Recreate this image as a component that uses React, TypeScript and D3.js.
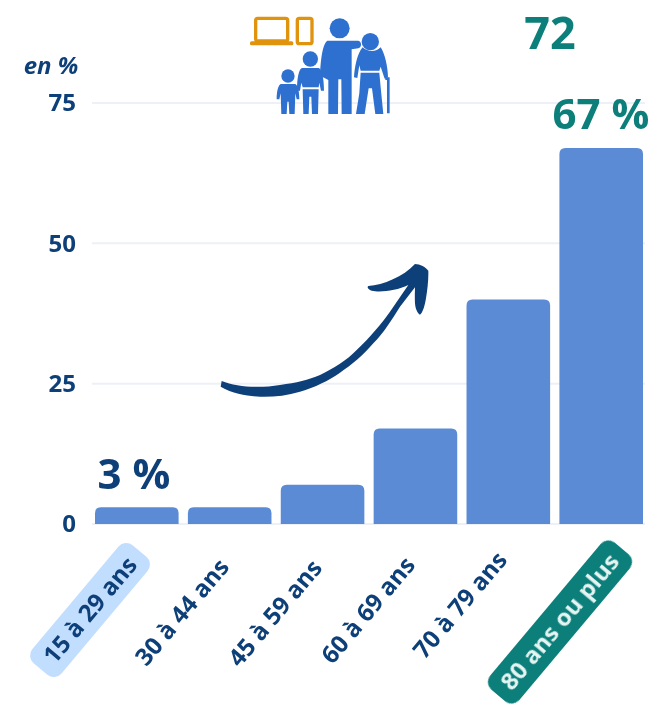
import React, { useEffect, useRef } from 'react';
import * as d3 from 'd3';

const ageGroups = ['15 à 29 ans', '30 à 44 ans', '45 à 59 ans', '60 à 69 ans', '70 à 79 ans', '80 ans ou plus'];
const shares = [3, 3, 7, 17, 40, 67];
const yTicks = [0, 25, 50, 75];
const labelCentres = [
  [90, 610],
  [182, 612],
  [275, 613],
  [368, 610],
  [460, 605],
  [560, 622],
];

const NAVY = '#0f3f78';
const TEAL = '#0b7f7a';
const BAR = '#5b8bd6';
const ICON = '#2f6fcf';
const ORANGE = '#e0930f';
const FONT = '"Open Sans", sans-serif';

function App() {
  const ref = useRef<SVGSVGElement>(null);

  useEffect(() => {
    const width = 653;
    const height = 704;
    const svg = d3.select(ref.current);
    svg.selectAll('*').remove();

    const x = d3.scaleBand().domain(ageGroups).range([95, 643]).paddingInner(0.1).paddingOuter(0);
    const y = d3.scaleLinear().domain([0, 75]).range([524, 103]);

    // the reference is a soft, upscaled image
    svg
      .append('defs')
      .append('filter')
      .attr('id', 'soft')
      .append('feGaussianBlur')
      .attr('stdDeviation', 0.6);

    const root = svg.append('g').attr('filter', 'url(#soft)');

    root.append('rect').attr('width', width).attr('height', height).attr('fill', '#fff');

    // grid
    root
      .append('g')
      .selectAll('line')
      .data(yTicks)
      .join('line')
      .attr('x1', 92)
      .attr('x2', 645)
      .attr('y1', (d) => y(d))
      .attr('y2', (d) => y(d))
      .attr('stroke', '#eef0f7')
      .attr('stroke-width', 2);

    // y axis
    const yAxis = root
      .append('g')
      .attr('transform', 'translate(76,0)')
      .call(d3.axisLeft(y).tickValues(yTicks).tickSize(0).tickPadding(0));
    yAxis.select('.domain').remove();
    yAxis
      .selectAll('text')
      .attr('fill', NAVY)
      .attr('font-family', FONT)
      .attr('font-weight', 700)
      .attr('font-size', 24);

    root
      .append('text')
      .attr('x', 51)
      .attr('y', 74)
      .attr('text-anchor', 'middle')
      .attr('fill', NAVY)
      .attr('font-family', FONT)
      .attr('font-weight', 700)
      .attr('font-style', 'italic')
      .attr('font-size', 24)
      .text('en %');

    // bars, flat at the bottom and rounded on top
    const r = 6;
    root
      .append('g')
      .selectAll('path')
      .data(shares)
      .join('path')
      .attr('fill', BAR)
      .attr('d', (d, i) => {
        const x0 = x(ageGroups[i]) as number;
        const x1 = x0 + x.bandwidth();
        const top = y(d);
        const p = d3.path();
        p.moveTo(x0, y(0));
        p.lineTo(x0, top + r);
        p.quadraticCurveTo(x0, top, x0 + r, top);
        p.lineTo(x1 - r, top);
        p.quadraticCurveTo(x1, top, x1, top + r);
        p.lineTo(x1, y(0));
        p.closePath();
        return p.toString();
      });

    // highlighted values
    const callouts = [
      { text: '72', cx: 550, cy: 49, size: 45, fill: TEAL },
      { text: '67 %', cx: 601, cy: 129, size: 42, fill: TEAL },
      { text: '3 %', cx: 134, cy: 489, size: 42, fill: NAVY },
    ];
    root
      .append('g')
      .selectAll('text')
      .data(callouts)
      .join('text')
      .attr('x', (d) => d.cx)
      .attr('y', (d) => d.cy)
      .attr('text-anchor', 'middle')
      .attr('font-family', FONT)
      .attr('font-weight', 700)
      .attr('font-size', (d) => d.size)
      .attr('fill', (d) => d.fill)
      .text((d) => d.text);

    // rotated category labels, two of them on a pill
    const labels = root
      .append('g')
      .selectAll('g')
      .data(ageGroups)
      .join('g')
      .attr('transform', (d, i) => `translate(${labelCentres[i][0]},${labelCentres[i][1]}) rotate(-50)`);

    labels
      .filter((d, i) => i === 0 || i === 5)
      .append('rect')
      .attr('x', (d, i) => (i === 0 ? -77 : -96))
      .attr('y', -19)
      .attr('width', (d, i) => (i === 0 ? 154 : 192))
      .attr('height', 38)
      .attr('rx', 10)
      .attr('fill', (d, i) => (i === 0 ? '#c2deff' : TEAL));

    labels
      .append('text')
      .attr('text-anchor', 'middle')
      .attr('dy', '0.35em')
      .attr('font-family', FONT)
      .attr('font-weight', 700)
      .attr('font-size', 24)
      .attr('fill', (d, i) => (i === 5 ? '#e6f5f3' : NAVY))
      .text((d) => d);

    // arrow, traced in 3x crop units
    root
      .append('path')
      .attr('transform', 'translate(200,250) scale(0.3333)')
      .attr('fill', NAVY)
      .attr(
        'd',
        'M65 393 C110 412 180 415 240 405 C290 398 325 390 360 375 C400 355 440 332 470 300 C510 262 545 220 570 185 L625 105 C590 122 540 128 515 122 C505 118 500 112 505 108 C550 105 610 80 645 42 C660 42 678 52 685 62 C686 90 682 120 678 145 C675 165 668 190 660 194 C652 190 646 175 645 160 C644 140 645 125 645 112 L600 170 C575 210 550 250 520 280 C490 315 455 345 420 368 C385 392 345 412 300 425 C260 437 220 441 180 440 C145 438 100 432 62 410 Z',
      );

    // icons, traced in 3x crop units
    const icons = root.append('g').attr('transform', 'translate(240,0) scale(0.3333)');

    icons
      .append('rect')
      .attr('x', 47)
      .attr('y', 55)
      .attr('width', 96)
      .attr('height', 68)
      .attr('rx', 6)
      .attr('fill', 'none')
      .attr('stroke', ORANGE)
      .attr('stroke-width', 10);
    icons
      .append('rect')
      .attr('x', 30)
      .attr('y', 124)
      .attr('width', 130)
      .attr('height', 12)
      .attr('rx', 5)
      .attr('fill', ORANGE);
    icons
      .append('rect')
      .attr('x', 172)
      .attr('y', 55)
      .attr('width', 44)
      .attr('height', 76)
      .attr('rx', 6)
      .attr('fill', 'none')
      .attr('stroke', ORANGE)
      .attr('stroke-width', 10);

    const people = icons.append('g').attr('fill', ICON);
    const heads = [
      [144, 228, 20],
      [211, 177, 23],
      [299, 85, 30],
      [391, 125, 26],
    ];
    people
      .selectAll('circle')
      .data(heads)
      .join('circle')
      .attr('cx', (d) => d[0])
      .attr('cy', (d) => d[1])
      .attr('r', (d) => d[2]);

    const bodies = [
      // small child
      'M122 252 L166 252 C174 256 178 275 178 298 L170 298 L166 280 L164 342 L148 342 L146 305 L142 305 L140 342 L124 342 L122 280 L118 298 L110 298 C110 275 114 256 122 252 Z',
      // older child
      'M186 204 L236 204 C246 208 252 235 252 272 L243 272 L238 248 L236 262 L188 262 L184 248 L180 272 L171 272 C171 235 176 208 186 204 Z M188 268 L236 268 L234 342 L216 342 L214 290 L208 290 L206 342 L190 342 Z',
      // adult with raised arm
      'M262 122 L355 122 C366 125 366 142 355 145 L335 148 L335 342 L305 342 L304 238 L295 238 L294 342 L265 342 L265 240 C258 236 250 234 240 226 C242 180 248 130 262 122 Z',
      // grandparent
      'M368 142 C385 158 410 156 422 142 C434 160 444 200 444 232 L434 236 L422 200 L418 212 L362 212 L358 196 L352 234 L342 232 C344 200 352 160 368 142 Z M362 218 L418 218 L422 262 L430 342 L406 342 L396 265 L386 265 L374 342 L348 342 L358 280 Z',
      // cane
      'M436 232 L449 232 L449 340 L441 340 L441 240 L436 240 Z',
    ];
    people
      .selectAll('path')
      .data(bodies)
      .join('path')
      .attr('d', (d) => d);
  }, []);

  return <svg ref={ref} width={653} height={704} style={{ position: 'absolute', left: 0, top: 0 }} />;
}

export default App;
